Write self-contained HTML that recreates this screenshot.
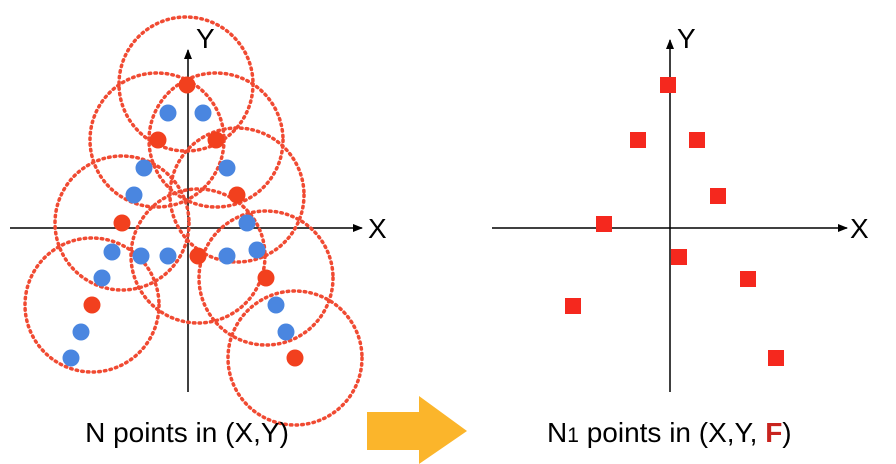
<!DOCTYPE html>
<html><head><style>body{margin:0;background:#fff}svg{display:block}</style></head><body>
<svg width="896" height="464" xmlns="http://www.w3.org/2000/svg" font-family="Liberation Sans, sans-serif">
<defs><marker id="a" markerWidth="10" markerHeight="10" refX="9" refY="5" orient="auto" markerUnits="userSpaceOnUse"><path d="M0,1 L10,5 L0,9 z" fill="#000"/></marker></defs>
<g stroke="#000" stroke-width="1.5" marker-end="url(#a)">
<line x1="188" y1="392" x2="188" y2="50"/>
<line x1="10" y1="228" x2="362" y2="228"/>
<line x1="670" y1="392" x2="670" y2="40"/>
<line x1="492" y1="228" x2="847" y2="228"/>
</g>
<text x="196" y="48" font-size="28">Y</text>
<text x="368" y="238" font-size="28">X</text>
<text x="677" y="48" font-size="28">Y</text>
<text x="850" y="238" font-size="28">X</text>
<g fill="none" stroke="#f04a32" stroke-width="3.5" stroke-dasharray="1.5 4.2" stroke-linecap="round">
<circle cx="186" cy="84" r="67"/><circle cx="157" cy="140" r="67"/><circle cx="216" cy="140" r="67"/>
<circle cx="237" cy="195" r="67"/><circle cx="122" cy="223" r="67"/><circle cx="198" cy="256" r="67"/>
<circle cx="266" cy="278" r="67"/><circle cx="92" cy="305" r="67"/><circle cx="295" cy="358" r="67"/>
</g>
<g fill="#4a86e0">
<circle cx="168" cy="113" r="8.5"/><circle cx="203" cy="113" r="8.5"/><circle cx="144" cy="168" r="8.5"/><circle cx="227" cy="168" r="8.5"/>
<circle cx="134" cy="195" r="8.5"/><circle cx="247" cy="223" r="8.5"/><circle cx="112" cy="252" r="8.5"/><circle cx="141" cy="256" r="8.5"/>
<circle cx="168" cy="256" r="8.5"/><circle cx="227" cy="256" r="8.5"/><circle cx="257" cy="250" r="8.5"/><circle cx="102" cy="278" r="8.5"/>
<circle cx="276" cy="305" r="8.5"/><circle cx="286" cy="332" r="8.5"/><circle cx="81" cy="332" r="8.5"/><circle cx="71" cy="358" r="8.5"/>
</g>
<g fill="#f2401e">
<circle cx="187" cy="85" r="8.5"/><circle cx="158" cy="140" r="8.5"/><circle cx="216" cy="140" r="8.5"/><circle cx="237" cy="195" r="8.5"/>
<circle cx="122" cy="223" r="8.5"/><circle cx="198" cy="256" r="8.5"/><circle cx="266" cy="278" r="8.5"/><circle cx="92" cy="305" r="8.5"/><circle cx="295" cy="358" r="8.5"/>
</g>
<g fill="#f5281e">
<rect x="660" y="77" width="16" height="16"/><rect x="630" y="132" width="16" height="16"/><rect x="689" y="132" width="16" height="16"/>
<rect x="710" y="188" width="16" height="16"/><rect x="596" y="216" width="16" height="16"/><rect x="671" y="249" width="16" height="16"/>
<rect x="740" y="271" width="16" height="16"/><rect x="565" y="298" width="16" height="16"/><rect x="768" y="350" width="16" height="16"/>
</g>
<path d="M367,412 L419,412 L419,396 L467,431 L419,464 L419,450 L367,450 z" fill="#fbb52b"/>
<text x="187" y="442" font-size="28" text-anchor="middle">N points in (X,Y)</text>
<text x="547" y="442" font-size="28">N<tspan font-size="21">1</tspan> points in (X,Y, <tspan fill="#c8231e" font-weight="bold">F</tspan>)</text>
</svg>
</body></html>
